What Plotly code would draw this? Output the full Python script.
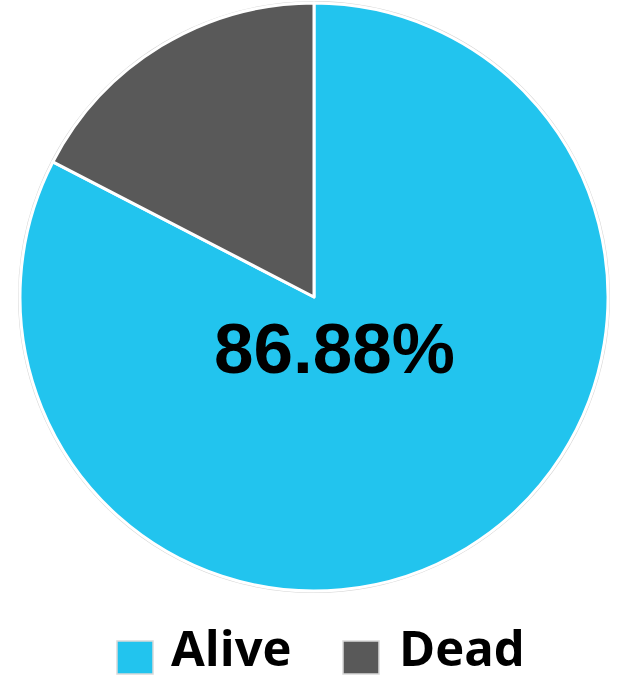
import plotly.graph_objects as go

labels = ["Alive", "Dead"]
values = [82.6, 17.4]
colors = ["#22C4EE", "#595959"]
center_label = "86.88%"

W, H = 619, 682
cx, cy, r = 314, 297, 294  # pixels

def px_x(x):
    return x / W

def px_y(y):
    return 1 - y / H

fig = go.Figure()
fig.add_trace(go.Pie(
    labels=labels, values=values, sort=False, direction="clockwise", rotation=0,
    marker=dict(colors=colors, line=dict(color="white", width=3)),
    textinfo="none", hoverinfo="label+percent", showlegend=False,
    domain=dict(x=[px_x(cx - r - 5), px_x(cx + r + 5)], y=[px_y(cy + r), px_y(cy - r)]),
))

shapes = [
    dict(type="circle", xref="paper", yref="paper", layer="below",
         x0=px_x(cx - r - 1), x1=px_x(cx + r + 1), y0=px_y(cy + r + 1), y1=px_y(cy - r - 1),
         line=dict(color="#d6d6d6", width=2), fillcolor="rgba(0,0,0,0)"),
]
annotations = [
    dict(text="<b>" + center_label + "</b>", x=px_x(334), y=px_y(348), xref="paper", yref="paper",
         showarrow=False, font=dict(family="Liberation Sans, Arial", size=71, color="black"),
         xanchor="center", yanchor="middle"),
]

# custom legend
legend_items = [(117, 170), (343, 398)]
for (sx, tx), lab, col in zip(legend_items, labels, colors):
    shapes.append(dict(type="rect", xref="paper", yref="paper",
                       x0=px_x(sx), x1=px_x(sx + 36), y0=px_y(674), y1=px_y(641),
                       fillcolor=col, line=dict(color="#d9d9d9", width=1.5)))
    annotations.append(dict(text="<b>" + lab + "</b>", x=px_x(tx - 1), y=px_y(647),
                            xref="paper", yref="paper", showarrow=False,
                            xanchor="left", yanchor="middle",
                            font=dict(family="Open Sans", size=49, color="black")))

fig.update_layout(
    width=W, height=H, margin=dict(l=0, r=0, t=0, b=0),
    paper_bgcolor="white", plot_bgcolor="white",
    shapes=shapes, annotations=annotations,
)
fig.write_html("out.html", config={"displayModeBar": False},
               post_script="document.body.style.margin='0';document.body.style.overflow='hidden';")
